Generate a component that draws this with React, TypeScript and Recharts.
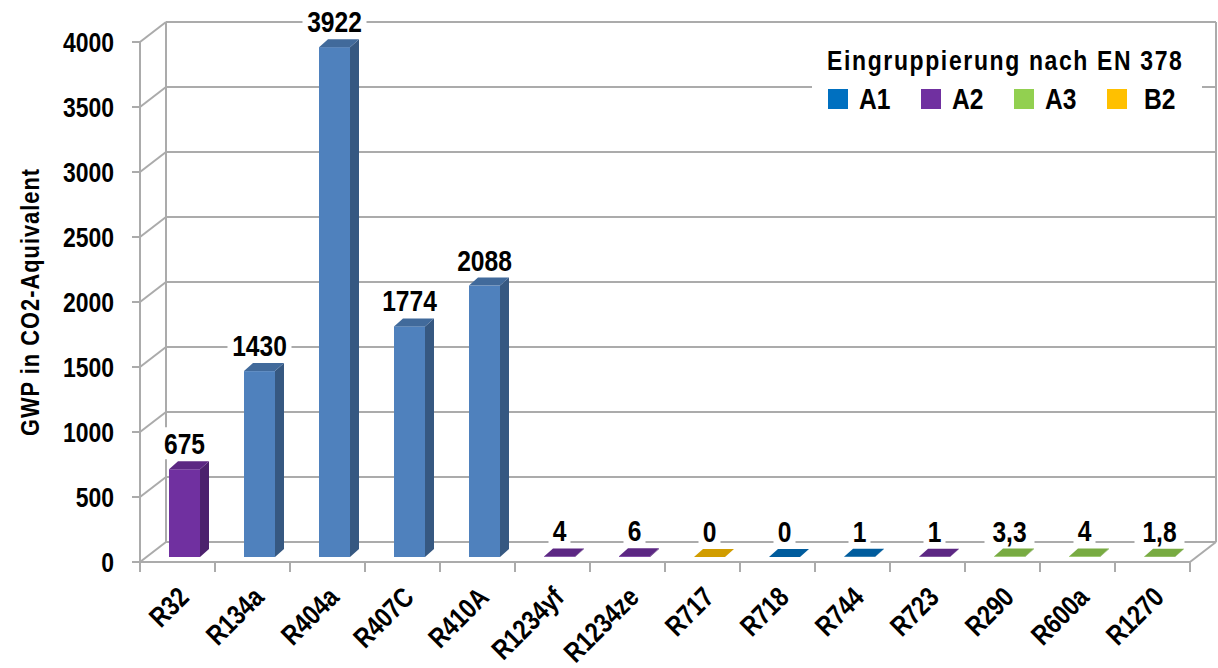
import { Bar, BarChart, CartesianGrid, Cell, LabelList, Legend, ReferenceArea, XAxis, YAxis } from 'recharts'

const categories = ['R32', 'R134a', 'R404a', 'R407C', 'R410A', 'R1234yf', 'R1234ze', 'R717', 'R718', 'R744', 'R723', 'R290', 'R600a', 'R1270']
const gwpValues = [675, 1430, 3922, 1774, 2088, 4, 6, 0, 0, 1, 1, 3.3, 4, 1.8]
const barColors = ['#7030A0', '#4F81BD', '#4F81BD', '#4F81BD', '#4F81BD', '#7030A0', '#7030A0', '#FFC000', '#0070C0', '#0070C0', '#7030A0', '#92D050', '#92D050', '#92D050']
const yTicks = [0, 500, 1000, 1500, 2000, 2500, 3000, 3500, 4000]
const legendTitle = 'Eingruppierung nach EN 378'
const legendLabels = ['A1', 'A2', 'A3', 'B2']
const legendColors = ['#0070C0', '#7030A0', '#92D050', '#FFC000']
const yTitle = 'GWP in CO2-Aquivalent'

const data = categories.map((name, i) => ({ name, gwp: gwpValues[i] }))

const FONT = '"Liberation Sans", Arial, sans-serif'
const NARROW = 0.82 // horizontal squeeze to get a condensed face
const GRID = '#ABABAB'
// depth of the back wall, offset of the bars and bar depth (fake 3D)
const DX = 26
const DY = -20
const BX = 7
const BY = -5
const SX = 9
const SY = -8

function shade(hex: string, f: number) {
  const n = parseInt(hex.slice(1), 16)
  const r = Math.round(((n >> 16) & 255) * f)
  const g = Math.round(((n >> 8) & 255) * f)
  const b = Math.round((n & 255) * f)
  return `rgb(${r},${g},${b})`
}

function Bar3D(props: any) {
  const { x, y, width, fill } = props
  const h = Math.max(props.height || 0, 0)
  const fx = x + BX
  const fy = y + BY
  return (
    <g>
      <rect x={fx} y={fy} width={width} height={h} fill={fill} />
      <polygon
        points={`${fx + width},${fy} ${fx + width + SX},${fy + SY} ${fx + width + SX},${fy + h + SY} ${fx + width},${fy + h}`}
        fill={shade(fill, 0.68)}
      />
      <polygon
        points={`${fx},${fy} ${fx + SX},${fy + SY} ${fx + width + SX},${fy + SY} ${fx + width},${fy}`}
        fill={shade(fill, 0.82)}
      />
    </g>
  )
}

function ValueLabel(props: any) {
  const vb = props.viewBox ?? props
  const x = props.x ?? vb.x
  const y = props.y ?? vb.y
  const width = props.width ?? vb.width
  const text = String(props.value).replace('.', ',')
  const cx = x + BX + width / 2
  const cy = y + BY - 26
  const w = text.length * 14 + 8
  return (
    <g>
      <rect x={cx - w / 2} y={cy - 16} width={w} height={32} fill="#fff" />
      <text
        transform={`translate(${cx},${cy + 11}) scale(${NARROW},1)`}
        textAnchor="middle"
        fontFamily={FONT}
        fontWeight="bold"
        fontSize={30}
        fill="#000"
      >
        {text}
      </text>
    </g>
  )
}

function GridLine(props: any) {
  const { x1, y1, x2, y2 } = props
  return (
    <g key={props.key}>
      <line x1={x1 + DX} y1={y1 + DY} x2={x2 + DX} y2={y2 + DY} stroke={GRID} strokeWidth={2} />
      <line x1={x1} y1={y1} x2={x1 + DX} y2={y1 + DY} stroke={GRID} strokeWidth={2} />
    </g>
  )
}

function Walls(props: any) {
  const { x, y, width, height } = props
  const bottom = y + height
  const n = categories.length
  return (
    <g>
      <line x1={x + DX} y1={y + DY} x2={x + DX} y2={bottom + DY} stroke={GRID} strokeWidth={2} />
      <line x1={x + width + DX} y1={y + DY} x2={x + width + DX} y2={bottom + DY} stroke={GRID} strokeWidth={2} />
      <line x1={x} y1={bottom} x2={x + width} y2={bottom} stroke={GRID} strokeWidth={2} />
      <line x1={x + width} y1={bottom} x2={x + width + DX} y2={bottom + DY} stroke={GRID} strokeWidth={2} />
      {categories.concat(['']).map((_, i) => (
        <line key={i} x1={x + (i * width) / n} y1={bottom} x2={x + (i * width) / n} y2={bottom + 10} stroke={GRID} strokeWidth={2} />
      ))}
    </g>
  )
}

function CategoryTick(props: any) {
  const { x, y, payload } = props
  return (
    <text
      transform={`translate(${x + 13},${y + 29}) rotate(-45) scale(${NARROW},1)`}
      textAnchor="end"
      fontFamily={FONT}
      fontWeight="bold"
      fontSize={28}
      fill="#000"
    >
      {payload.value}
    </text>
  )
}

function ValueTick(props: any) {
  const { x, y, payload } = props
  return (
    <text
      transform={`translate(${x},${y + 10}) scale(${NARROW},1)`}
      textAnchor="end"
      fontFamily={FONT}
      fontWeight="bold"
      fontSize={28}
      fill="#000"
    >
      {payload.value}
    </text>
  )
}

function YTitle(props: any) {
  const vb = props.viewBox
  const cx = vb.x - 11
  const cy = vb.y + vb.height / 2
  return (
    <text
      transform={`translate(${cx},${cy}) rotate(-90) scale(0.84,1)`}
      textAnchor="middle"
      fontFamily={FONT}
      fontWeight="bold"
      fontSize={26}
      letterSpacing={1.2}
      fill="#000"
    >
      {yTitle}
    </text>
  )
}

function GroupLegend() {
  return (
    <div style={{ position: 'relative', width: 390, height: 92, background: '#fff', fontFamily: FONT, fontWeight: 'bold', color: '#000' }}>
      <div
        style={{
          position: 'absolute',
          left: 15,
          top: 17,
          fontSize: 28,
          lineHeight: '28px',
          letterSpacing: 2,
          whiteSpace: 'nowrap',
          transform: `scaleX(${NARROW})`,
          transformOrigin: 'left center',
        }}
      >
        {legendTitle}
      </div>
      {legendLabels.map((label, i) => (
        <div key={label} style={{ position: 'absolute', left: 16 + i * 93, top: 54, display: 'flex', alignItems: 'center' }}>
          <span style={{ display: 'inline-block', width: 20, height: 20, background: legendColors[i], marginRight: i === 3 ? 17 : 11 }} />
          <span
            style={{
              display: 'inline-block',
              fontSize: 30,
              lineHeight: '30px',
              transform: `scaleX(${NARROW})`,
              transformOrigin: 'left center',
            }}
          >
            {label}
          </span>
        </div>
      ))}
    </div>
  )
}

export default function App() {
  return (
    <div style={{ position: 'absolute', left: 0, top: 0, width: 1218, height: 668, background: '#fff' }}>
      <BarChart width={1218} height={668} data={data} margin={{ top: 42, right: 28, bottom: 0, left: 50 }} barSize={31}>
        <CartesianGrid vertical={false} horizontal={GridLine} />
        <ReferenceArea y1={0} y2={4000} shape={Walls} fillOpacity={0} />
        <XAxis dataKey="name" interval={0} height={106} axisLine={false} tickLine={false} tick={CategoryTick} />
        <YAxis
          width={90}
          domain={[0, 4000]}
          ticks={yTicks}
          axisLine={{ stroke: GRID, strokeWidth: 2 }}
          tickLine={{ stroke: GRID, strokeWidth: 2 }}
          tickSize={8}
          tickMargin={18}
          tick={ValueTick}
          label={{ content: YTitle }}
        />
        <Legend
          layout="horizontal"
          verticalAlign="middle"
          align="center"
          content={GroupLegend}
          wrapperStyle={{ left: 812, top: 30, width: 390, height: 92 }}
        />
        <Bar dataKey="gwp" shape={Bar3D} isAnimationActive={false}>
          {data.map((d, i) => (
            <Cell key={d.name} fill={barColors[i]} />
          ))}
          <LabelList dataKey="gwp" content={ValueLabel} />
        </Bar>
      </BarChart>
    </div>
  )
}
